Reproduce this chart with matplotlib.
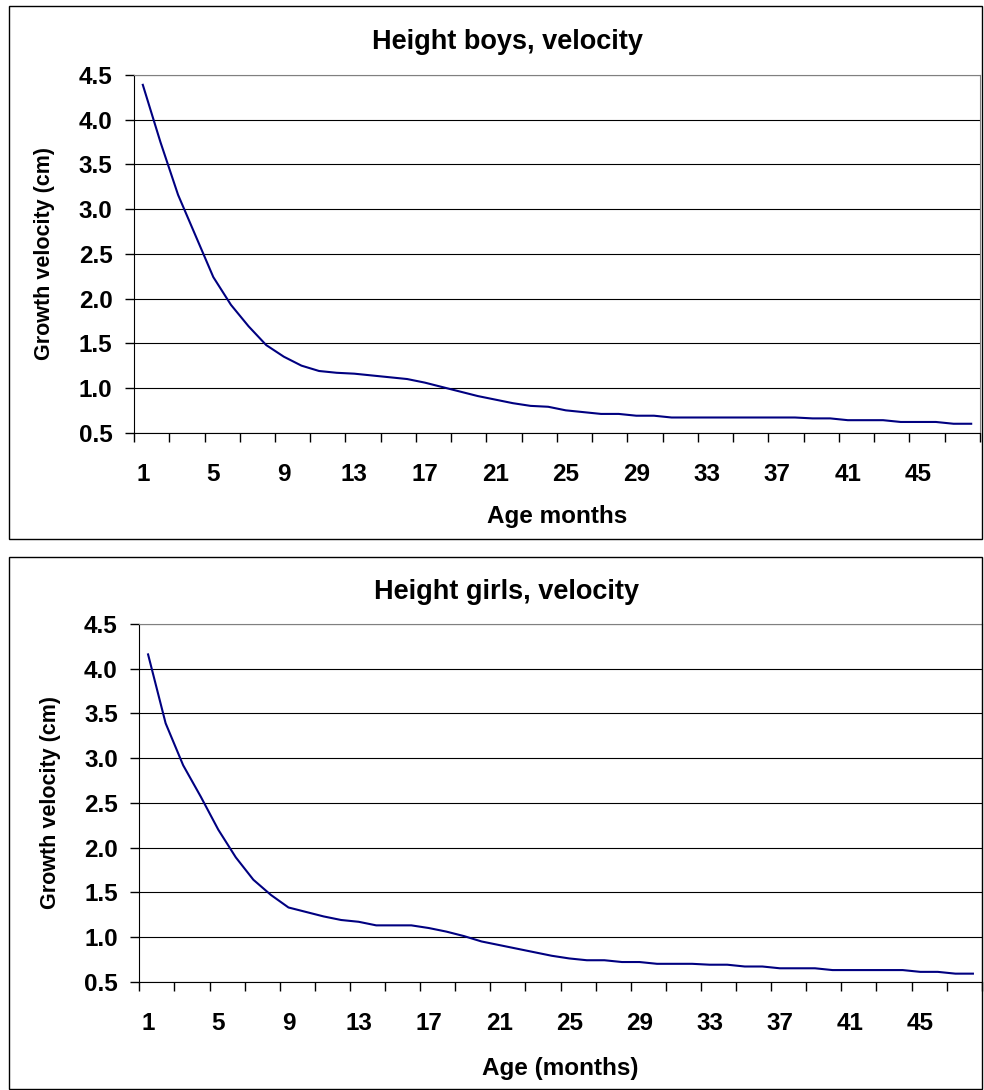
import matplotlib.pyplot as plt
from matplotlib.patches import Rectangle

# growth velocity (cm) per month of age
months = list(range(1, 49))
boys = [4.39, 3.75, 3.16, 2.70, 2.24, 1.93, 1.69, 1.48, 1.35, 1.25,
        1.19, 1.17, 1.16, 1.14, 1.12, 1.10, 1.06, 1.01, 0.96, 0.91,
        0.87, 0.83, 0.80, 0.79, 0.75, 0.73, 0.71, 0.71, 0.69, 0.69,
        0.67, 0.67, 0.67, 0.67, 0.67, 0.67, 0.67, 0.67, 0.66, 0.66,
        0.64, 0.64, 0.64, 0.62, 0.62, 0.62, 0.60, 0.60]
girls = [4.16, 3.39, 2.92, 2.57, 2.20, 1.89, 1.64, 1.47, 1.33, 1.28,
         1.23, 1.19, 1.17, 1.13, 1.13, 1.13, 1.10, 1.06, 1.01, 0.95,
         0.91, 0.87, 0.83, 0.79, 0.76, 0.74, 0.74, 0.72, 0.72, 0.70,
         0.70, 0.70, 0.69, 0.69, 0.67, 0.67, 0.65, 0.65, 0.65, 0.63,
         0.63, 0.63, 0.63, 0.63, 0.61, 0.61, 0.59, 0.59]
label_months = [1, 5, 9, 13, 17, 21, 25, 29, 33, 37, 41, 45]
yticks = [0.5, 1.0, 1.5, 2.0, 2.5, 3.0, 3.5, 4.0, 4.5]

plt.rcParams['font.family'] = ['Liberation Sans', 'DejaVu Sans']
plt.rcParams['font.weight'] = 'bold'

W, H = 984, 1090
fig = plt.figure(figsize=(W / 100, H / 100), dpi=100)


def fx(px):
    return px / W


def fy(py):
    return 1 - py / H


def draw_panel(left, right, top, bottom, values, title, xlabel, box, title_y, xlabel_y, ylabel_x):
    # outer chart frame
    fig.add_artist(Rectangle((fx(box[0]), fy(box[3])), fx(box[2] - box[0]), (box[3] - box[1]) / H,
                             transform=fig.transFigure, fill=False, ec='black', lw=1))
    ax = fig.add_axes([fx(left), fy(bottom), fx(right - left), (bottom - top) / H])
    ax.plot(months, values, color='#000080', lw=1.5)
    ax.set_xlim(0.5, 48.5)
    ax.set_ylim(0.5, 4.5)
    ax.set_yticks(yticks)
    ax.set_yticklabels([f'{v:.1f}' for v in yticks])
    ax.yaxis.grid(True, color='black', lw=0.8)
    ax.set_axisbelow(True)
    # tick marks between categories, labels under every 4th category
    ax.set_xticks([m + 0.5 for m in range(0, 49, 2)])
    ax.set_xticklabels([])
    ax.set_xticks(label_months, minor=True)
    ax.set_xticklabels([str(m) for m in label_months], minor=True)
    ax.tick_params(axis='x', which='major', direction='out', length=6.5, width=1, color='black')
    ax.tick_params(axis='x', which='minor', length=0, pad=21.5, labelsize=17.5)
    ax.tick_params(axis='y', direction='out', length=6.5, width=1, pad=9, labelsize=17.5)
    for s in ['left', 'bottom']:
        ax.spines[s].set_color('black')
    for s in ['top', 'right']:
        ax.spines[s].set_color('#808080')
    fig.text(fx(507), fy(title_y), title, ha='center', va='center', fontsize=19.5, fontweight='bold')
    fig.text(fx((left + right) / 2), fy(xlabel_y), xlabel, ha='center', va='center', fontsize=17.5,
             fontweight='bold')
    fig.text(fx(ylabel_x), fy((top + bottom) / 2), 'Growth velocity (cm)', ha='center', va='center',
             rotation=90, fontsize=15.5, fontweight='bold')
    return ax


draw_panel(134, 980, 75, 432.7, boys, 'Height boys, velocity', 'Age months',
           (9, 6, 982, 539), 42, 516, 45)
draw_panel(139.3, 981.7, 624, 981.7, girls, 'Height girls, velocity', 'Age (months)',
           (9, 557, 982, 1089), 592, 1069, 51)

fig.savefig('out.png', dpi=100)
